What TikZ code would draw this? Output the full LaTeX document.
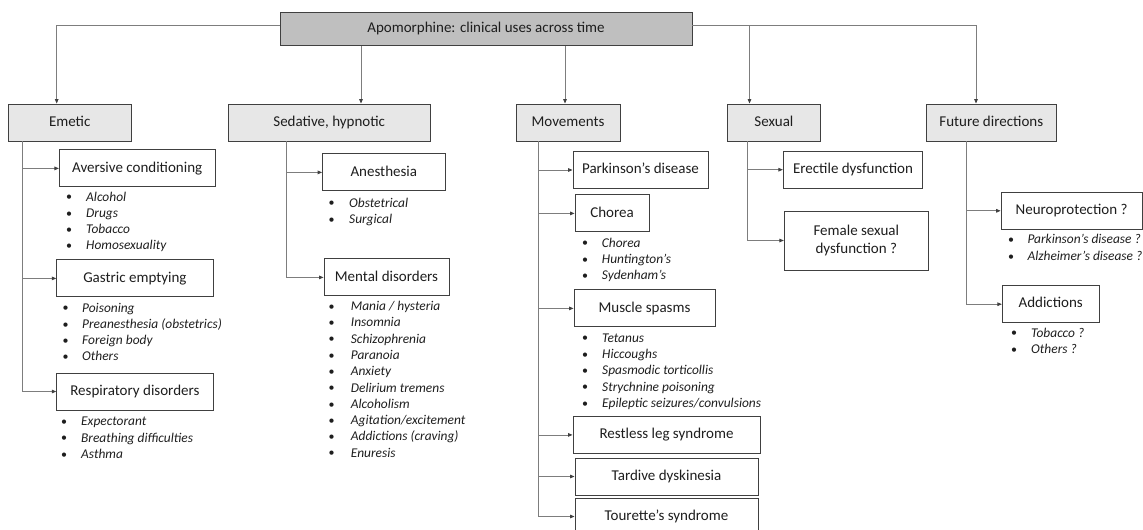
\documentclass[tikz,border=0pt]{standalone}
\usepackage{fontspec}
\setmainfont{Carlito}
\usetikzlibrary{arrows.meta, positioning}
\definecolor{titlegray}{RGB}{191,191,191}
\definecolor{catgray}{RGB}{231,231,231}
\definecolor{edge}{RGB}{64,64,64}
\definecolor{wire}{RGB}{125,125,125}
\definecolor{ink}{RGB}{30,30,30}

\begin{document}
\begin{tikzpicture}[x=1pt, y=-1pt,
    frame/.style={draw=edge, line width=0.9pt, inner sep=0pt, text=ink, font=\fontsize{15}{18}\selectfont},
    box/.style={frame, text height=10.5pt, text depth=3pt},
    top/.style={box, fill=titlegray, minimum height=33.4pt},
    cat/.style={box, fill=catgray, minimum height=37pt},
    sub/.style={box, fill=white, minimum height=37pt},
    arr/.style={draw=wire, line width=0.8pt, -{Triangle[length=4.5pt, width=3.6pt, color=edge]}},
    dot/.style={inner sep=0pt, font=\fontsize{12}{15}\selectfont, text=ink},
    item/.style={anchor=west, inner sep=0pt, font=\fontsize{13.4}{15}\selectfont\itshape, text=ink, text height=9pt, text depth=3pt}]
    \useasboundingbox (0,0) rectangle (1143,530);

    % title and the five fields
    \node[top, minimum width=412pt] (title) at (486,29) {Apomorphine: clinical uses across time};
    \node[cat, minimum width=122.7pt] (emetic) at (69.7,122.5) {Emetic};
    \node[cat, minimum width=201.6pt] (sedative) at (329.2,122.5) {Sedative, hypnotic};
    \node[cat, minimum width=104pt] (movements) at (568,122.5) {Movements};
    \node[cat, minimum width=92.3pt] (sexual) at (773.9,122.5) {Sexual};
    \node[cat, minimum width=130.7pt] (future) at (991.3,122.5) {Future directions};

    \draw[arr] ([yshift=4pt]title.west) -| ([xshift=-13pt]emetic.north);
    \draw[arr] ([xshift=31.8pt]sedative.north |- title.south) -- ([xshift=31.8pt]sedative.north);
    \draw[arr] ([xshift=-3pt]movements.north |- title.south) -- ([xshift=-3pt]movements.north);
    \draw[arr] ([yshift=4pt]title.east) -| ([xshift=-24.4pt]sexual.north);
    \draw[arr] ([yshift=4pt]title.east) -| ([xshift=-15.3pt]future.north);

    % Emetic
    \node[sub, minimum width=155.7pt] (aversive) at (137.2,168.4) {Aversive conditioning};
    \node[sub, minimum width=156.3pt] (gastric) at (134.9,278.4) {Gastric emptying};
    \node[sub, minimum width=156.3pt] (respiratory) at (134.9,391.5) {Respiratory disorders};
    \coordinate (emt) at ([xshift=-47.2pt]emetic.south);
    \draw[arr] (emt) |- (respiratory.west);
    \foreach \n in {aversive, gastric}
        \draw[arr] (emt |- \n.west) -- (\n.west);
    \foreach \t [count=\i from 0] in {Alcohol, Drugs, Tobacco, Homosexuality} {
        \node[dot] (avd\i) at (69,{198+16.3*\i}) {•};
        \node[item] (avt\i) at (86,{198+16.3*\i}) {\t};
    }
    \foreach \t [count=\i from 0] in {Poisoning, Preanesthesia (obstetrics), Foreign body, Others} {
        \node[dot] (gad\i) at (65.7,{309+16.3*\i}) {•};
        \node[item] (gat\i) at (82,{309+16.3*\i}) {\t};
    }
    \foreach \t [count=\i from 0] in {Expectorant, Breathing difficulties, Asthma} {
        \node[dot] (red\i) at (64,{422.7+16.3*\i}) {•};
        \node[item] (ret\i) at (81,{422.7+16.3*\i}) {\t};
    }

    % Sedative, hypnotic
    \node[sub, minimum width=122.5pt] (anesthesia) at (383.8,172.4) {Anesthesia};
    \node[sub, minimum width=125pt] (mental) at (386.5,277.4) {Mental disorders};
    \coordinate (sdt) at ([xshift=-42.5pt]sedative.south);
    \draw[arr] (sdt) |- (mental.west);
    \draw[arr] (sdt |- anesthesia.west) -- (anesthesia.west);
    \foreach \t [count=\i from 0] in {Obstetrical, Surgical} {
        \node[dot] (and\i) at (331.7,{204+16.3*\i}) {•};
        \node[item] (ant\i) at (349,{204+16.3*\i}) {\t};
    }
    \foreach \t [count=\i from 0] in {Mania / hysteria, Insomnia, Schizophrenia, Paranoia, Anxiety,
        Delirium tremens, Alcoholism, Agitation/excitement, Addictions (craving), Enuresis} {
        \node[dot] (med\i) at (331.7,{307.7+16.26*\i}) {•};
        \node[item] (met\i) at (350.7,{307.7+16.26*\i}) {\t};
    }

    % Movements
    \node[sub, minimum width=135pt] (parkinson) at (640.5,170) {Parkinson’s disease};
    \node[sub, minimum width=74pt] (chorea) at (612,213.4) {Chorea};
    \node[sub, minimum width=141pt] (spasms) at (644.5,308.4) {Muscle spasms};
    \node[sub, minimum width=187pt] (restless) at (666.5,434.9) {Restless leg syndrome};
    \node[sub, minimum width=183pt] (tardive) at (666.5,476.5) {Tardive dyskinesia};
    \node[sub, minimum width=183pt] (tourette) at (666.5,516.5) {Tourette’s syndrome};
    \coordinate (mvt) at ([xshift=-29.7pt]movements.south);
    \draw[arr] (mvt) |- (tourette.west);
    \foreach \n in {parkinson, chorea, spasms, restless, tardive}
        \draw[arr] (mvt |- \n.west) -- (\n.west);
    \foreach \t [count=\i from 0] in {Chorea, Huntington’s, Sydenham’s} {
        \node[dot] (chd\i) at (585,{244+16.3*\i}) {•};
        \node[item] (cht\i) at (601.7,{244+16.3*\i}) {\t};
    }
    \foreach \t [count=\i from 0] in {Tetanus, Hiccoughs, Spasmodic torticollis, Strychnine poisoning,
        Epileptic seizures/convulsions} {
        \node[dot] (spd\i) at (585,{339+16.4*\i}) {•};
        \node[item] (spt\i) at (602,{339+16.4*\i}) {\t};
    }

    % Sexual
    \node[sub, minimum width=139.4pt] (erectile) at (853,169.7) {Erectile dysfunction};
    \node[frame, fill=white, minimum width=144pt, minimum height=59pt, align=center] (female) at (856.3,240.5)
        {Female sexual\\dysfunction ?};
    \coordinate (sxt) at ([xshift=-26.2pt]sexual.south);
    \draw[arr] (sxt) |- (female.west);
    \draw[arr] (sxt |- erectile.west) -- (erectile.west);

    % Future directions
    \node[sub, minimum width=141pt] (neuro) at (1071.6,210.8) {Neuroprotection ?};
    \node[sub, minimum width=96.7pt] (addictions) at (1050.7,304.2) {Addictions};
    \coordinate (fut) at ([xshift=-24.8pt]future.south);
    \draw[arr] (fut) |- (addictions.west);
    \draw[arr] (fut |- neuro.west) -- (neuro.west);
    \foreach \t [count=\i from 0] in {Parkinson’s disease ?, Alzheimer’s disease ?} {
        \node[dot] (nud\i) at (1011,{240.7+16.6*\i}) {•};
        \node[item] (nut\i) at (1027.3,{240.7+16.6*\i}) {\t};
    }
    \foreach \t [count=\i from 0] in {Tobacco ?, Others ?} {
        \node[dot] (add\i) at (1014,{334+16.6*\i}) {•};
        \node[item] (adt\i) at (1031,{334+16.6*\i}) {\t};
    }
\end{tikzpicture}
\end{document}
